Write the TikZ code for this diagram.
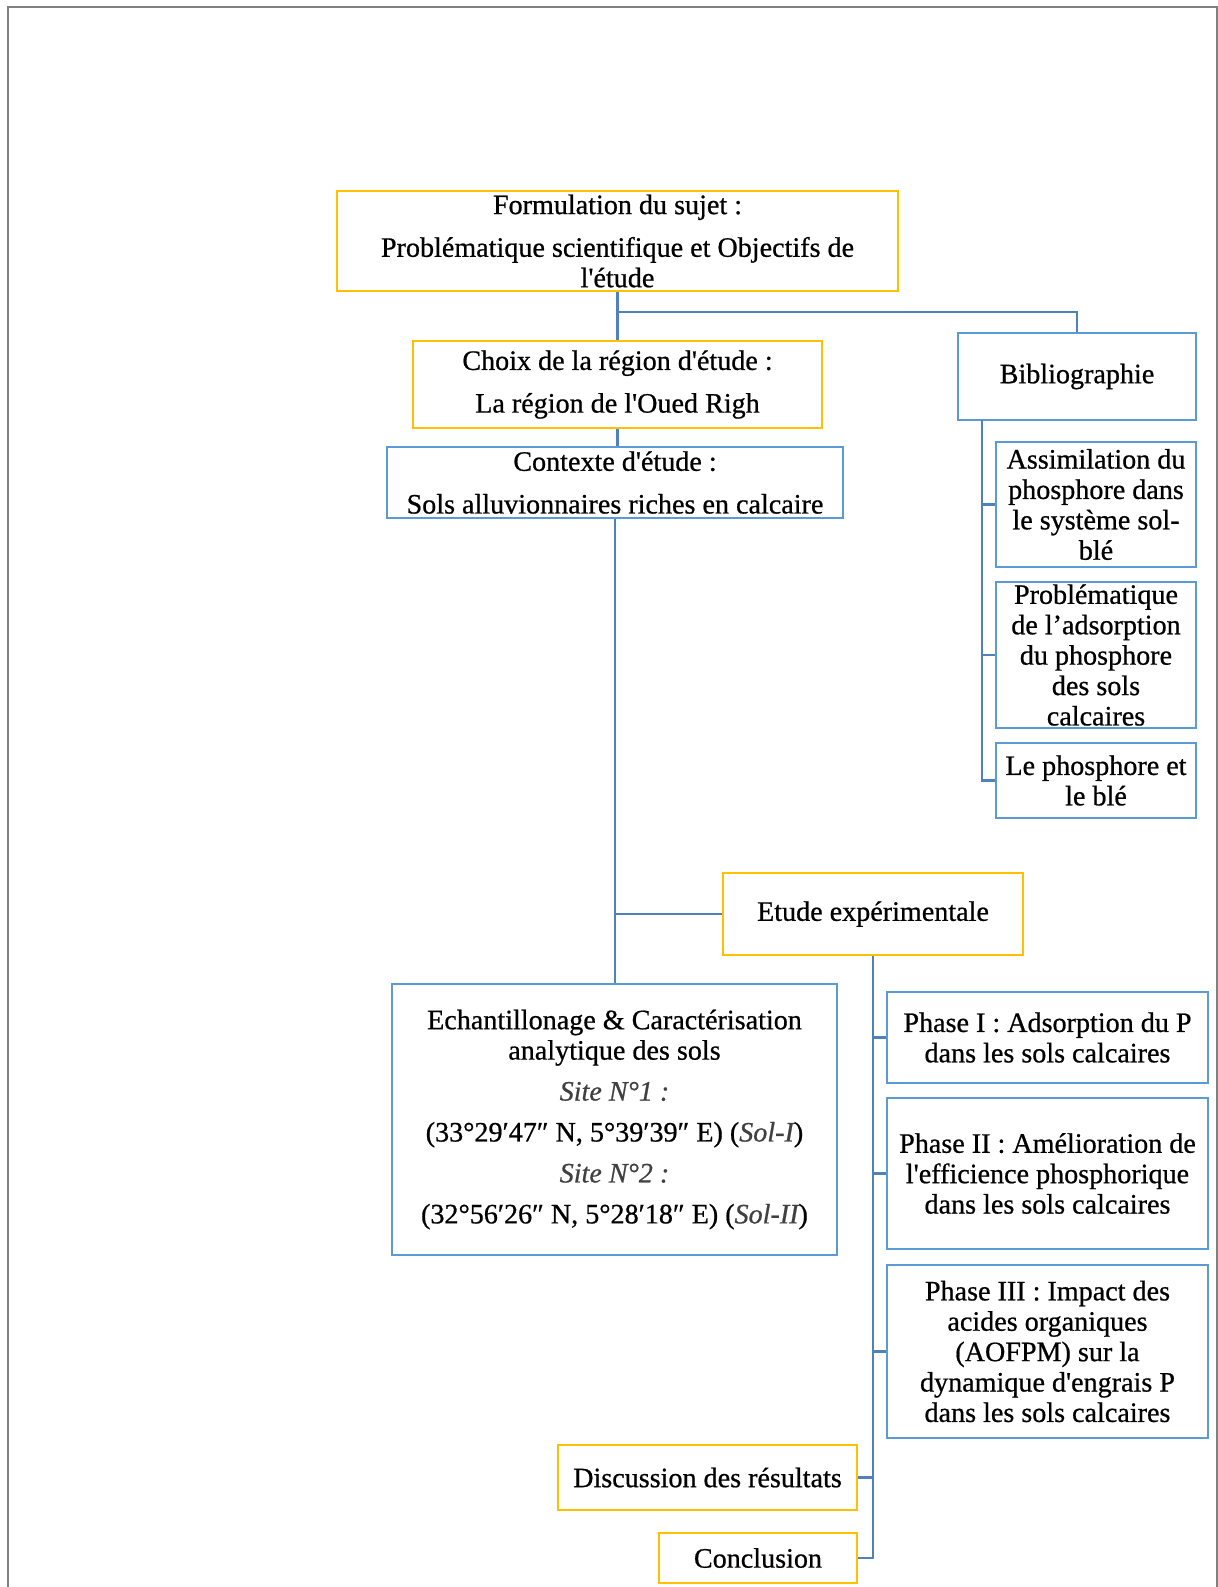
\documentclass[tikz,border=0pt]{standalone}
\usepackage{fontspec}
\setmainfont{Liberation Serif}[Ligatures=TeXOff, FakeBold=0.7]
\usepackage{xcolor}
\usepackage{tikz}
\usetikzlibrary{
  positioning
}
\definecolor{boxgold}{RGB}{255,192,0}
\definecolor{boxblue}{RGB}{91,155,213}
\definecolor{linkblue}{RGB}{79,129,189}
\definecolor{framegray}{RGB}{128,128,128}
\definecolor{sitegray}{RGB}{64,64,64}
\tikzset{
  box/.style={draw, line width=1.1pt, align=center, inner sep=0pt,
    font=\fontsize{16}{17.3}\selectfont},
  goldbox/.style={box, draw=boxgold},
  bluebox/.style={box, draw=boxblue},
  link/.style={draw=linkblue, line width=1.4pt}
}

\begin{document}
\begin{tikzpicture}[x=0.02cm, y=-0.02cm]
  \useasboundingbox (0,0) rectangle (1218,1587);
  % page frame
  \draw[framegray, line width=1.2pt] (8,1587) -- (8,7) -- (1217,7) -- (1217,1587);
  % Main column
  \node[goldbox, minimum width=11.22cm, minimum height=2cm] (form) at (617.5,241)
    {Formulation du sujet :\\[7pt] Problématique scientifique et Objectifs de\\ l'étude};
  \node[goldbox, minimum width=8.18cm, minimum height=1.74cm] (choix) at (617.5,384.5)
    {Choix de la région d'étude :\\[7pt] La région de l'Oued Righ};
  \node[bluebox, minimum width=9.12cm, minimum height=1.42cm] (contexte) at (615,482.5)
    {Contexte d'étude :\\[7pt] Sols alluvionnaires riches en calcaire};
  % Bibliographie
  \node[bluebox, minimum width=4.76cm, minimum height=1.74cm] (biblio) at (1077,376.5)
    {Bibliographie};
  \node[bluebox, minimum width=4cm, minimum height=2.5cm] (assim) at (1096,504.5)
    {Assimilation du\\ phosphore dans\\ le système sol-\\ blé};
  \node[bluebox, minimum width=4cm, minimum height=2.92cm] (probl) at (1096,655)
    {Problématique\\ de l’adsorption\\ du phosphore\\ des sols\\ calcaires};
  \node[bluebox, minimum width=4cm, minimum height=1.5cm] (phos) at (1096,780.5)
    {Le phosphore et\\ le blé};
  % Experimental part
  \node[goldbox, minimum width=6cm, minimum height=1.64cm] (etude) at (873,914)
    {Etude expérimentale};
  \node[bluebox, minimum width=8.9cm, minimum height=5.42cm] (echant) at (614.5,1119.5)
    {Echantillonage \& Caractérisation\\ analytique des sols\\[6pt]
     {\color{sitegray}\itshape Site N°1 :}\\[6pt]
     (33°29′47″ N, 5°39′39″ E) ({\color{sitegray}\itshape Sol-I})\\[6pt]
     {\color{sitegray}\itshape Site N°2 :}\\[6pt]
     (32°56′26″ N, 5°28′18″ E) ({\color{sitegray}\itshape Sol-II})};
  \node[bluebox, minimum width=6.42cm, minimum height=1.82cm] (ph1) at (1047.5,1037.5)
    {Phase I : Adsorption du P\\ dans les sols calcaires};
  \node[bluebox, minimum width=6.42cm, minimum height=3.02cm] (ph2) at (1047.5,1173.5)
    {Phase II : Amélioration de\\ l'efficience phosphorique\\ dans les sols calcaires};
  \node[bluebox, minimum width=6.42cm, minimum height=3.46cm] (ph3) at (1047.5,1351.5)
    {Phase III : Impact des\\ acides organiques\\ (AOFPM) sur la\\ dynamique d'engrais P\\ dans les sols calcaires};
  \node[goldbox, minimum width=5.98cm, minimum height=1.3cm] (disc) at (707.5,1477.5)
    {Discussion des résultats};
  \node[goldbox, minimum width=3.96cm, minimum height=1cm] (concl) at (758,1558)
    {Conclusion};
  % Links
  \draw[link] (form.south) -- (choix.north);
  \draw[link] (form.south) ++(0,20) -| (biblio.north);
  \draw[link] (choix.south) -- (choix.south |- contexte.north);
  \draw[link] (contexte.south) -- (contexte.south |- echant.north);
  \draw[link] (contexte.south |- etude.west) -- (etude.west);
  \coordinate (bibtop) at (982,420);
  \foreach \n in {assim,probl,phos}
    \draw[link] (bibtop) |- (\n.west);
  \foreach \n in {ph1,ph2,ph3}
    \draw[link] (etude.south) |- (\n.west);
  \foreach \n in {disc,concl}
    \draw[link] (etude.south) |- (\n.east);
\end{tikzpicture}
\end{document}
